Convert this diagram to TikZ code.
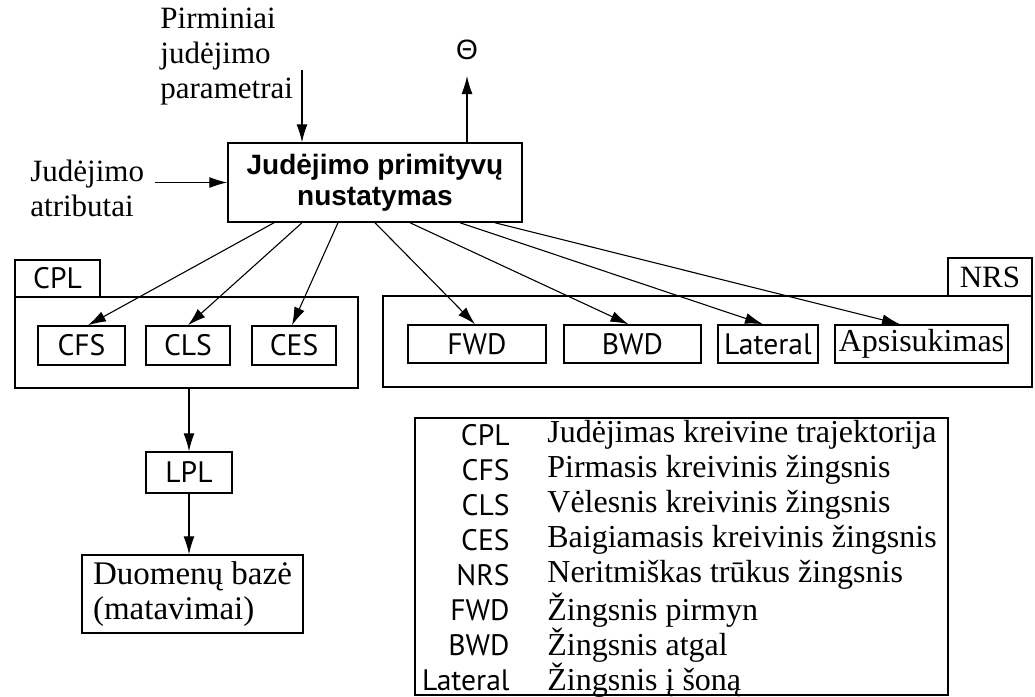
\documentclass[tikz,border=0pt]{standalone}
\usepackage{fontspec}
\setmainfont{Liberation Serif}
\newfontfamily\abbrfont{PT Sans}
\newfontfamily\titlefont{Liberation Sans}
\usetikzlibrary{arrows.meta}

\tikzset{
  box/.style={draw, line width=0.75pt, inner sep=0pt},
  arr/.style={-{Latex[length=9pt,width=5.5pt]}, line width=0.55pt},
  abbr/.style={font=\abbrfont\fontsize{14.8}{16}\selectfont},
  serif/.style={font=\fontsize{15.5}{17.5}\selectfont},
  bigserif/.style={font=\fontsize{16}{17.5}\selectfont},
}

\begin{document}
\begin{tikzpicture}[x=0.5pt, y=-0.5pt]
  \useasboundingbox (0,0) rectangle (1035,697);
  % Main block
  \node [box, minimum width=147pt, minimum height=39.5pt, align=center,
         font=\titlefont\bfseries\fontsize{14}{15.5}\selectfont] (main) at (375,182.5)
        {Judėjimo primityvų\\nustatymas};
  % Inputs and output
  \node [serif, inner sep=0pt, anchor=west, align=left] (params) at (160,57) {Pirminiai\\judėjimo\\parametrai};
  \node [serif, inner sep=0pt, anchor=west, align=left] (attrs) at (30,188) {Judėjimo\\atributai};
  \node [font=\titlefont\fontsize{14}{16}\selectfont, inner sep=0pt] (theta) at (467,50) {Θ};
  \coordinate (parin)    at (302,70);
  \coordinate (atrin)    at (155,182.5);
  \coordinate (thetaout) at (467,76);
  \draw [arr] (parin) -- (parin |- main.north);
  \draw [arr] (atrin) -- (main.west);
  \draw [arr] (thetaout |- main.north) -- (thetaout);
  % CPL group
  \node [box, minimum width=171.5pt, minimum height=45.5pt] (cplgroup) at (186.5,342.5) {};
  \node [box, abbr, minimum width=42.5pt, minimum height=18.5pt] (cpltab) at (57.5,278.5) {CPL};
  \node [box, abbr, minimum width=43.5pt, minimum height=19.5pt] (cfs) at (81.5,345.5) {CFS};
  \node [box, abbr, minimum width=42pt, minimum height=19.5pt] (cls) at (188,345.5) {CLS};
  \node [box, abbr, minimum width=42pt, minimum height=19.5pt] (ces) at (294,345.5) {CES};
  % NRS group
  \node [box, minimum width=324.5pt, minimum height=45.5pt] (nrsgroup) at (707.5,341.5) {};
  \node [box, serif, minimum width=42pt, minimum height=19pt] (nrstab) at (990,277) {NRS};
  \node [box, abbr, minimum width=69pt, minimum height=19pt] (fwd) at (477,344) {FWD};
  \node [box, abbr, minimum width=68.5pt, minimum height=19pt] (bwd) at (632.5,344) {BWD};
  \node [box, abbr, minimum width=50pt, minimum height=19pt] (lateral) at (768,344) {Lateral};
  \node [box, bigserif, minimum width=86.5pt, minimum height=19pt] (apsis) at (921.5,344) {Apsisukimas};
  % Primitives
  \foreach \target/\from/\to in {cfs/-50.5/3.25, cls/-36.5/0, ces/-18.5/-1, fwd/0/-1,
                                 bwd/17.5/-2, lateral/42.5/-2.5, apsis/60/-10.75}
    \draw [arr] ([xshift=\from pt]main.south) -- ([xshift=\to pt]\target.north);
  % Database
  \node [box, abbr, minimum width=43pt, minimum height=20.5pt] (lpl) at (189,472.5) {LPL};
  \node [box, minimum width=110.5pt, minimum height=39pt, align=left,
         font=\fontsize{16.5}{17.5}\selectfont] (db) at (192.5,594)
        {Duomenų bazė\\(matavimai)};
  \draw [arr] (lpl.north |- cplgroup.south) -- (lpl.north);
  \draw [arr] (lpl.south) -- (lpl.south |- db.north);
  % Legend
  \node [box, minimum width=266.5pt, minimum height=138.5pt] (legend) at (681.5,556.5) {};
  \foreach \abbr/\desc [count=\i] in {CPL/Judėjimas kreivine trajektorija,
                                      CFS/Pirmasis kreivinis žingsnis,
                                      CLS/Vėlesnis kreivinis žingsnis,
                                      CES/Baigiamasis kreivinis žingsnis,
                                      NRS/Neritmiškas trūkus žingsnis,
                                      FWD/Žingsnis pirmyn,
                                      BWD/Žingsnis atgal,
                                      Lateral/Žingsnis į šoną} {
    \node [abbr, inner sep=0pt, anchor=east] (key\i) at (510,400+35*\i) {\abbr};
    \node [bigserif, inner sep=0pt, anchor=west] (desc\i) at (547,400+35*\i) {\desc};
  }
\end{tikzpicture}
\end{document}
